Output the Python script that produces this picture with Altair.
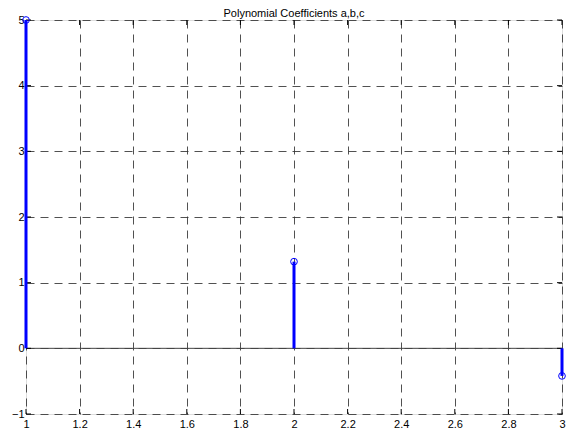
import altair as alt
import pandas as pd

# data
idx = [1, 2, 3]
coef = [5.0, 1.32, -0.42]
x_ticks = [1, 1.2, 1.4, 1.6, 1.8, 2, 2.2, 2.4, 2.6, 2.8, 3]
y_ticks = [-1, 0, 1, 2, 3, 4, 5]
title = "Polynomial Coefficients a,b,c"

W, H = 536, 394
FONT = "Liberation Sans"

df = pd.DataFrame({"x": idx, "y": coef, "base": [0] * len(idx)})
xt = pd.DataFrame({"x": x_ticks})
yt = pd.DataFrame({"y": y_ticks})

xs = alt.Scale(domain=[1, 3], nice=False, zero=False)
ys = alt.Scale(domain=[-1, 5], nice=False, zero=False)

xaxis = alt.Axis(values=x_ticks, grid=True, gridDash=[8, 6], gridColor="#333",
                 gridOpacity=0.85, ticks=False, domain=False, labelFontSize=11,
                 labelFont=FONT, labelColor="#000", labelPadding=4, title=None,
                 labelExpr="format(datum.value, '.1~f')", labelFlush=False,
                 labelBaseline="top")
yaxis = alt.Axis(values=y_ticks, grid=True, gridDash=[8, 6], gridColor="#333",
                 gridOpacity=0.85, ticks=False, domain=False, labelFontSize=11,
                 labelFont=FONT, labelColor="#000", labelPadding=2, title=None,
                 format="d")

grid = alt.Chart(df).mark_point(opacity=0).encode(
    x=alt.X("x:Q", scale=xs, axis=xaxis),
    y=alt.Y("y:Q", scale=ys, axis=yaxis),
)

# baseline at zero
baseline = alt.Chart(pd.DataFrame({"y": [0]})).mark_rule(color="#444", strokeWidth=1).encode(
    y=alt.Y("y:Q", scale=ys), x=alt.value(0), x2=alt.value(W)
)

# inward ticks
xt_bot = alt.Chart(xt).mark_rule(color="#000").encode(
    x=alt.X("x:Q", scale=xs), y=alt.value(H - 5), y2=alt.value(H))
xt_top = alt.Chart(xt).mark_rule(color="#000").encode(
    x=alt.X("x:Q", scale=xs), y=alt.value(0), y2=alt.value(5))
yt_l = alt.Chart(yt).mark_rule(color="#000").encode(
    y=alt.Y("y:Q", scale=ys), x=alt.value(0), x2=alt.value(5))
yt_r = alt.Chart(yt).mark_rule(color="#000").encode(
    y=alt.Y("y:Q", scale=ys), x=alt.value(W - 5), x2=alt.value(W))

stems = alt.Chart(df).mark_rule(color="#0000ff", strokeWidth=3).encode(
    x=alt.X("x:Q", scale=xs), y=alt.Y("base:Q", scale=ys), y2="y:Q")

heads = alt.Chart(df).mark_point(shape="circle", size=45, filled=False,
                                 color="#0000ff", strokeWidth=1, opacity=1).encode(
    x=alt.X("x:Q", scale=xs), y=alt.Y("y:Q", scale=ys))

ttl = alt.Chart(pd.DataFrame({"t": [title]})).mark_text(
    font=FONT, fontSize=11, color="#000", align="center", baseline="alphabetic"
).encode(text="t:N", x=alt.value(W / 2), y=alt.value(-3))

chart = alt.layer(grid, baseline, xt_bot, xt_top, yt_l, yt_r, stems, heads, ttl).properties(
    width=W, height=H,
    autosize=alt.AutoSizeParams(type="none"),
    padding={"left": 18, "top": 12, "right": 9, "bottom": 17},
).configure_view(stroke="#000", strokeWidth=1).configure(background="#ffffff")

chart.save("out.html", embed_options={"renderer": "svg", "actions": False})
